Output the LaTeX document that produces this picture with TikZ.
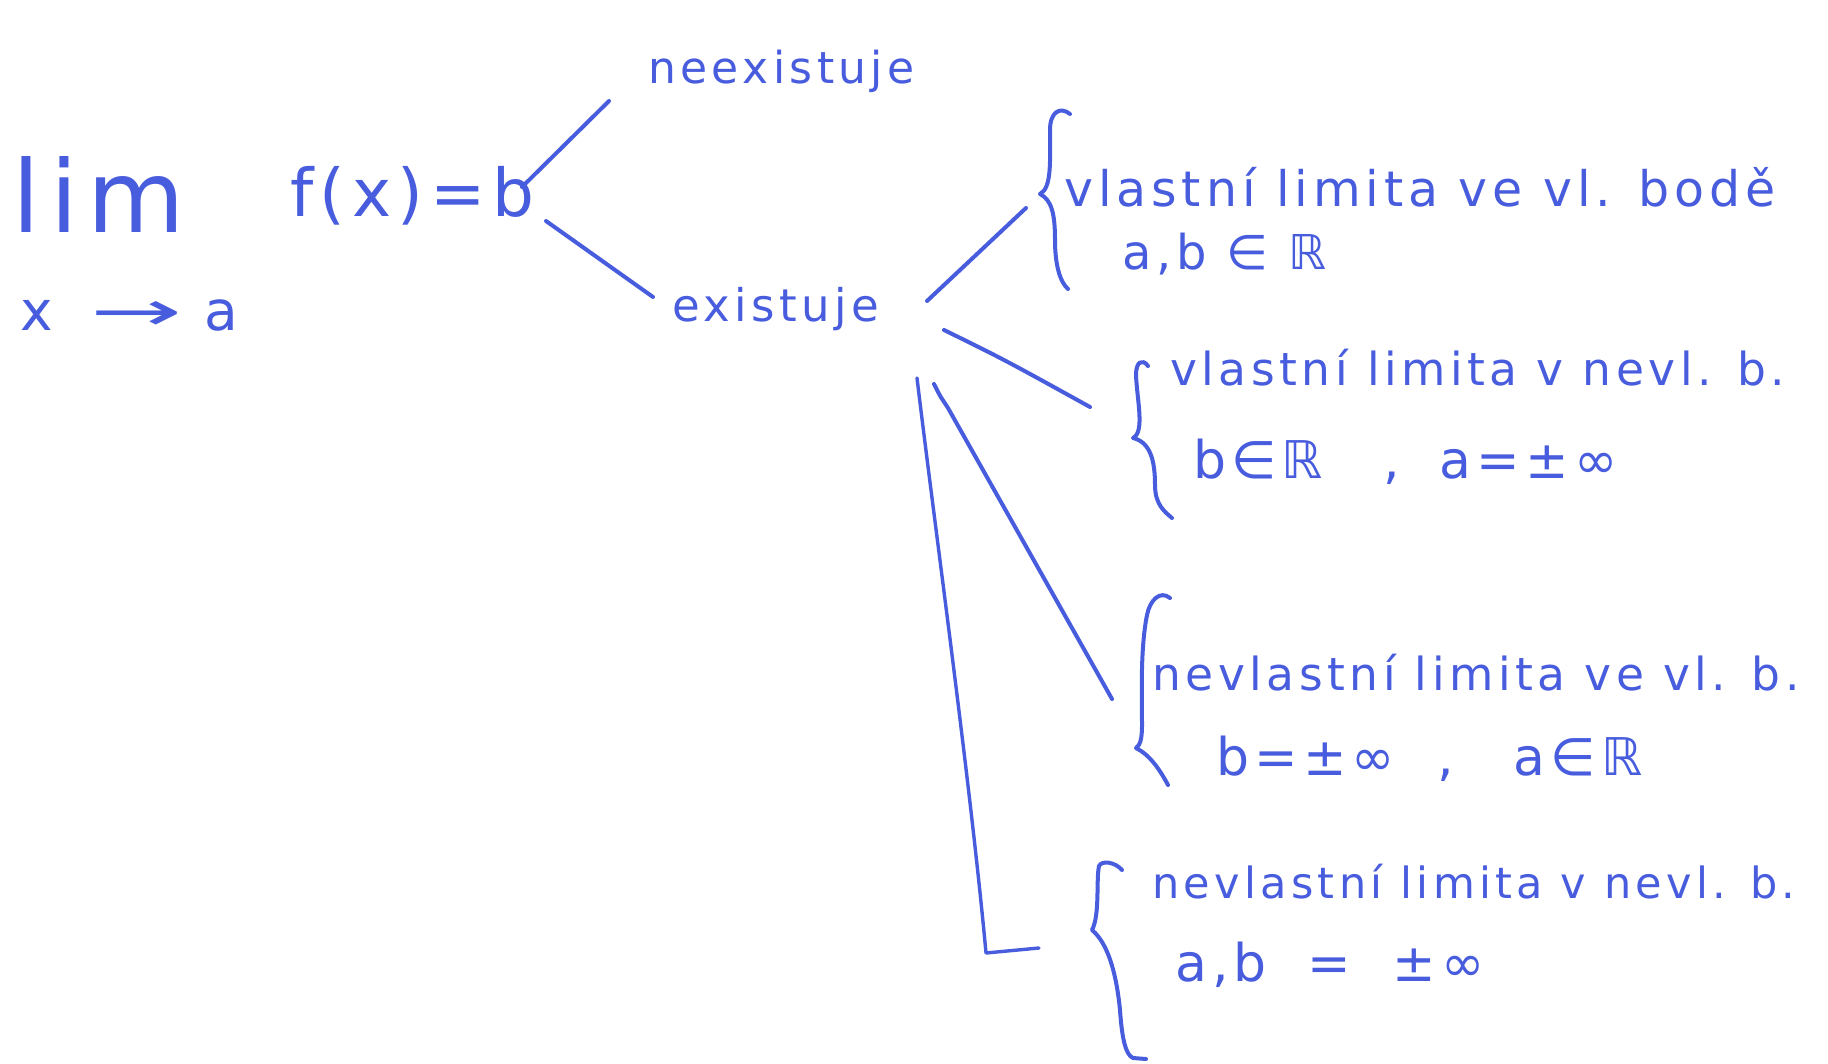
\documentclass[tikz,border=0pt]{standalone}
\usepackage{graphicx}
\usepackage{fontspec}
\setmainfont{DejaVu Sans}
\newfontfamily\hand[LetterSpace=10]{DejaVu Sans}
\definecolor{ink}{RGB}{72,92,222}
\begin{document}
\begin{tikzpicture}[x=1pt,y=-1pt,
  pen/.style={draw=ink,line width=4pt,line cap=round,line join=round},
  txt/.style={text=ink,inner sep=0pt,anchor=base west},
]
\fill[white] (0,0) rectangle (1828,1064);
\useasboundingbox (0,0) rectangle (1828,1064);

% left expression
\node[txt,font=\hand\fontsize{100}{100}\selectfont] (lim) at (12,233) {lim};
\node[txt,font=\fontsize{55}{55}\selectfont] (xa) at (20,331) {x\hspace{38pt}\scalebox{2}[1]{→}\hspace{22pt}a};
\node[txt,font=\hand\fontsize{66}{66}\selectfont] (fx) at (290,217) {f(x)=b};

% first level
\node[txt,font=\hand\fontsize{44}{44}\selectfont] (neex) at (648,84) {neexistuje};
\node[txt,font=\hand\fontsize{45}{45}\selectfont] (ex) at (672,322) {existuje};

% branches
\node[txt,font=\hand\fontsize{49}{49}\selectfont] (b1a) at (1064,207) {vlastní limita ve vl. bodě};
\node[txt,font=\hand\fontsize{48}{48}\selectfont] (b1b) at (1122,270) {a,b ∈ ℝ};

\node[txt,font=\hand\fontsize{45.5}{45.5}\selectfont] (b2a) at (1170,385) {vlastní limita v nevl. b.};
\node[txt,font=\hand\fontsize{52}{52}\selectfont] (b2b) at (1193,478) {b∈ℝ\hspace{60pt},\hspace{40pt}a=±∞};

\node[txt,font=\hand\fontsize{45.5}{45.5}\selectfont] (b3a) at (1152,690) {nevlastní limita ve vl. b.};
\node[txt,font=\hand\fontsize{52}{52}\selectfont] (b3b) at (1216,775) {b=±∞\hspace{42pt},\hspace{60pt}a∈ℝ};

\node[txt,font=\hand\fontsize{43}{43}\selectfont] (b4a) at (1152,898) {nevlastní limita v nevl. b.};
\node[txt,font=\hand\fontsize{52}{52}\selectfont] (b4b) at (1175,981) {a,b\hspace{40pt}=\hspace{42pt}±∞};

% connector end points
\coordinate (c1a) at (522,187); \coordinate (c1b) at (609,101);
\coordinate (c2a) at (546,221); \coordinate (c2b) at (653,297);
\coordinate (c3a) at (927,301); \coordinate (c3b) at (1026,208);
\coordinate (c4a) at (944,330); \coordinate (c4b) at (1090,407);
\coordinate (c5a) at (934,384); \coordinate (c5b) at (1112,699);
\coordinate (c6a) at (917,378); \coordinate (c6c) at (986,953); \coordinate (c6b) at (1039,948);

\draw[pen] (c1a) -- (c1b);
\draw[pen] (c2a) -- (c2b);
\draw[pen] (c3a) -- (c3b);
\draw[pen] (c4a) .. controls (1005,360) .. (c4b);
\draw[pen] (c5a) .. controls (940,396) .. (948,408) -- (c5b);
\draw[pen,line width=3.4pt] (c6a) .. controls (934,520) and (970,780) .. (c6c) -- (c6b);

% braces
\draw[pen] (1070,114) .. controls (1060,106) and (1050,112) .. (1050,130)
  .. controls (1050,160) and (1052,188) .. (1040,194)
  .. controls (1052,200) and (1055,215) .. (1055,240)
  .. controls (1055,265) and (1060,282) .. (1068,289);
\draw[pen] (1148,366) .. controls (1142,358) and (1136,362) .. (1136,375)
  .. controls (1137,400) and (1145,432) .. (1133,438)
  .. controls (1150,442) and (1155,460) .. (1155,485)
  .. controls (1155,505) and (1165,512) .. (1172,518);
\draw[pen] (1170,598) .. controls (1160,590) and (1150,600) .. (1147,615)
  .. controls (1140,650) and (1142,700) .. (1142,725)
  .. controls (1142,740) and (1140,745) .. (1136,748)
  .. controls (1150,755) and (1160,770) .. (1168,785);
\draw[pen] (1122,870) .. controls (1115,862) and (1102,860) .. (1099,866)
  .. controls (1096,880) and (1100,915) .. (1092,930)
  .. controls (1110,945) and (1117,980) .. (1120,1010)
  .. controls (1122,1040) and (1126,1055) .. (1133,1058) -- (1146,1059);
\end{tikzpicture}
\end{document}
